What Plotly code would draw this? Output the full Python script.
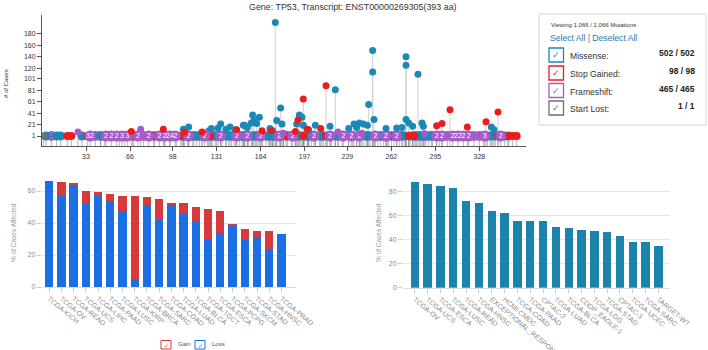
import plotly.graph_objects as go

# ---------------- DATA ----------------
title_text = "Gene: TP53, Transcript: ENST00000269305(393 aa)"

# Lollipop: raised points (position, # cases)
missense_pos = [175, 179, 176, 180, 163, 158, 159, 157, 152, 110, 106, 127, 134, 141, 145, 151, 173, 193, 195, 191, 196, 205, 216, 220, 234, 236, 238, 241, 245, 248, 248, 249, 244, 266, 273, 273, 273, 275, 278, 282, 285, 286, 339, 337, 171, 200, 230, 258, 270, 161, 154, 132, 138]
missense_val = [200, 50, 28, 22, 34, 38, 28, 24, 20, 17, 13, 14, 22, 17, 12, 20, 10, 38, 34, 22, 20, 20, 18, 82, 22, 16, 24, 22, 56, 151, 113, 30, 20, 15, 140, 125, 30, 24, 18, 109, 24, 18, 12, 17, 14, 12, 14, 14, 16, 23, 16, 15, 13]
stop_pos = [196, 213, 192, 172, 199, 91, 67, 306, 342, 296, 300, 319, 333, 190, 209, 165, 146, 107, 120]
stop_val = [66, 89, 29, 10, 13, 13, 9, 47, 43, 19, 23, 17, 26, 9, 14, 10, 12, 8, 8]
frameshift_pos = [27, 74, 125, 181, 222, 240, 287]
frameshift_val = [8, 13, 10, 6, 8, 6, 5]
startlost_pos = [1]
startlost_val = [1]

# Lollipop: single-case points along the baseline
baseline_missense = [3, 11, 14, 30, 44, 62, 101, 105, 109, 113, 116, 120, 124, 128, 131, 135, 138, 140, 144, 148, 151, 152, 155, 158, 162, 168, 171, 173, 176, 179, 181, 187, 190, 194, 197, 199, 202, 205, 208, 211, 214, 217, 220, 225, 230, 233, 236, 239, 243, 246, 249, 252, 256, 259, 264, 268, 272, 276, 278, 281, 283, 286, 290, 293, 331, 334, 336, 338, 340, 347, 350]
baseline_stop = [19, 22, 34, 47, 58, 69, 84, 92, 96, 104, 126, 165, 183, 196, 213, 260, 275, 279, 298, 342, 349, 353, 356]
baseline_frameshift = [7, 36, 40, 44, 48, 52, 56, 60, 64, 68, 72, 76, 80, 84, 88, 92, 96, 100, 106, 110, 114, 118, 122, 126, 130, 134, 142, 146, 150, 154, 160, 164, 170, 174, 178, 184, 188, 192, 200, 204, 210, 216, 222, 226, 232, 238, 244, 250, 254, 258, 262, 266, 270, 280, 284, 288, 292, 296, 300, 304, 308, 312, 316, 320, 324, 328, 332, 344]
# labelled baseline frameshift bubbles
bubble_pos = [36, 48, 52, 56, 60, 64, 72, 80, 88, 92, 96, 100, 110, 122, 134, 146, 154, 164, 178, 188, 204, 216, 226, 232, 238, 250, 258, 266, 296, 300, 308, 312, 316, 320, 332, 344]
bubble_txt = ["32", "2", "2", "2", "3", "3", "2", "2", "2", "2", "24", "2", "2", "2", "2", "2", "2", "2", "2", "2", "2", "2", "2", "2", "2", "2", "2", "2", "2", "2", "2", "22", "2", "2", "3", "2"]

lolli_xticks = [33, 66, 98, 131, 164, 197, 229, 262, 295, 328]
lolli_yticks = [1, 21, 41, 61, 81, 101, 120, 140, 160, 180]

# Legend panel
mut_types = ["Missense:", "Stop Gained:", "Frameshift:", "Start Lost:"]
mut_counts = ["502 / 502", "98 / 98", "465 / 465", "1 / 1"]

# CNV bar chart (left)
cnv_projects = ["TCGA-KICH", "TCGA-OV", "TCGA-READ", "TCGA-UCS", "TCGA-LIHC", "TCGA-PAAD", "TCGA-LUSC", "TCGA-KIRP", "TCGA-BRCA", "TCGA-SARC", "TCGA-COAD", "TCGA-LUAD", "TCGA-BLCA", "TCGA-TGCT", "TCGA-ESCA", "TCGA-PCPG", "TCGA-SKCM", "TCGA-STAD", "TCGA-HNSC", "TCGA-PRAD"]
cnv_loss = [66.4, 57.1, 63.1, 52.3, 57.1, 53.1, 47.3, 4.8, 51.0, 41.9, 51.2, 46.2, 41.3, 29.8, 34.0, 38.1, 30.0, 30.8, 24.0, 33.3]
cnv_gain = [0.0, 8.3, 1.9, 7.7, 2.5, 5.0, 9.8, 51.9, 5.0, 13.1, 1.5, 6.1, 8.9, 19.2, 13.7, 1.3, 6.0, 4.2, 10.8, 0.0]

# Mutation frequency bar chart (right)
mut_projects = ["TCGA-OV", "TCGA-UCS", "TCGA-ESCA", "TCGA-LUSC", "TCGA-READ", "TCGA-HNSC", "EXCEPTIONAL_RESPONDERS-ER", "HCMI-CMDC", "TCGA-COAD", "TCGA-PAAD", "CPTAC-2", "TCGA-LUAD", "TCGA-BLCA", "CDDP_EAGLE-1", "TCGA-LGG", "TCGA-STAD", "CPTAC-3", "TCGA-UCEC", "TCGA-SARC", "TARGET-WT"]
mut_pct = [88.1, 86.7, 84.7, 83.3, 72.0, 70.6, 63.6, 62.5, 55.6, 55.6, 55.6, 50.6, 49.5, 48.4, 47.2, 46.1, 43.4, 38.1, 37.8, 34.5]

# ---------------- STYLE ----------------
W, H = 708, 350
FONT = "Liberation Sans, Arial, sans-serif"
C_MS, C_SG, C_FS, C_SL = "#1a89b6", "#ee1b1b", "#a45cc6", "#707070"
C_LOSS, C_GAIN, C_TEAL = "#1c6fe3", "#d63a3a", "#1c84ac"
Y_BOTTOM = -16.5


def PX(x):
    return x / W


def PY(y):
    return 1 - y / H


fig = go.Figure()

# sticks: upper part (light) and lower rug part (darker)
ux, uy, lx, ly = [], [], [], []
for plist, vlist in [(missense_pos, missense_val), (stop_pos, stop_val), (frameshift_pos, frameshift_val),
                     (startlost_pos, startlost_val)]:
    for p, v in zip(plist, vlist):
        ux += [p, p, None]
        uy += [1, v, None]
        lx += [p, p, None]
        ly += [Y_BOTTOM, 1, None]
for plist in [baseline_missense, baseline_stop, baseline_frameshift]:
    for p in plist:
        lx += [p, p, None]
        ly += [Y_BOTTOM, 1, None]
fig.add_trace(go.Scatter(x=ux, y=uy, mode="lines", line=dict(color="#cfcfcf", width=1),
                         hoverinfo="skip", showlegend=False, xaxis="x", yaxis="y"))
fig.add_trace(go.Scatter(x=lx, y=ly, mode="lines", line=dict(color="rgba(110,110,110,0.5)", width=1),
                         hoverinfo="skip", showlegend=False, xaxis="x", yaxis="y"))

# baseline markers
fig.add_trace(go.Scatter(x=baseline_frameshift, y=[1] * len(baseline_frameshift), mode="markers",
                         marker=dict(color=C_FS, size=10), showlegend=False, xaxis="x", yaxis="y"))
fig.add_trace(go.Scatter(x=baseline_missense, y=[1] * len(baseline_missense), mode="markers",
                         marker=dict(color=C_MS, size=9), showlegend=False, xaxis="x", yaxis="y"))
fig.add_trace(go.Scatter(x=baseline_stop, y=[1] * len(baseline_stop), mode="markers",
                         marker=dict(color=C_SG, size=8), showlegend=False, xaxis="x", yaxis="y"))
fig.add_trace(go.Scatter(x=bubble_pos, y=[1] * len(bubble_pos), mode="markers+text", text=bubble_txt,
                         textposition="middle center", textfont=dict(color="white", size=7, family=FONT),
                         marker=dict(color=C_FS, size=11), showlegend=False, xaxis="x", yaxis="y"))
# raised markers
fig.add_trace(go.Scatter(x=frameshift_pos, y=frameshift_val, mode="markers", marker=dict(color=C_FS, size=7),
                         showlegend=False, xaxis="x", yaxis="y"))
fig.add_trace(go.Scatter(x=missense_pos, y=missense_val, mode="markers", marker=dict(color=C_MS, size=7),
                         showlegend=False, xaxis="x", yaxis="y"))
fig.add_trace(go.Scatter(x=stop_pos, y=stop_val, mode="markers", marker=dict(color=C_SG, size=7),
                         showlegend=False, xaxis="x", yaxis="y"))
fig.add_trace(go.Scatter(x=startlost_pos, y=startlost_val, mode="markers", marker=dict(color=C_SL, size=7),
                         showlegend=False, xaxis="x", yaxis="y"))

# left stacked bars
fig.add_trace(go.Bar(x=cnv_projects, y=cnv_loss, name="Loss", marker=dict(color=C_LOSS),
                     showlegend=False, xaxis="x2", yaxis="y2"))
fig.add_trace(go.Bar(x=cnv_projects, y=cnv_gain, name="Gain", marker=dict(color=C_GAIN),
                     showlegend=False, xaxis="x2", yaxis="y2"))
# right bars
fig.add_trace(go.Bar(x=mut_projects, y=mut_pct, marker=dict(color=C_TEAL), showlegend=False,
                     xaxis="x3", yaxis="y3"))

tick_font = dict(family=FONT, size=7, color="#333")
grey_font = dict(family=FONT, size=7, color="#8a8a8a")

fig.update_layout(
    width=W, height=H, margin=dict(l=0, r=0, t=0, b=0, autoexpand=False),
    paper_bgcolor="white", plot_bgcolor="white",
    barmode="stack", bargap=0.32,
    font=dict(family=FONT),
    xaxis=dict(domain=[PX(42), PX(526)], range=[0, 363], tickvals=lolli_xticks, showgrid=False,
               zeroline=False, showline=True, linecolor="#555", linewidth=1, ticks="outside",
               ticklen=4, tickcolor="#555", tickfont=tick_font, anchor="y", automargin=False),
    yaxis=dict(domain=[PY(146), PY(15)], range=[Y_BOTTOM, 213], tickvals=lolli_yticks, showgrid=False,
               zeroline=False, showline=True, linecolor="#555", linewidth=1, ticks="outside",
               ticklen=4, tickcolor="#555", tickfont=tick_font, anchor="x", automargin=False),
    xaxis2=dict(domain=[PX(41.7), PX(296)], range=[-0.61, 20.19], type="category", tickangle=40,
                showgrid=False, zeroline=False, showline=True, linecolor="#ddd", ticks="outside",
                ticklen=4, tickcolor="#ccc", tickfont=grey_font, anchor="y2", automargin=False),
    yaxis2=dict(domain=[PY(287), PY(175)], range=[0, 70], tickvals=[0, 20, 40, 60], showgrid=True,
                gridcolor="#e6e6e6", zeroline=False, showline=False, ticks="outside", ticklen=4,
                tickcolor="#ccc", tickfont=grey_font, anchor="x2", automargin=False),
    xaxis3=dict(domain=[PX(403), PX(670)], range=[-0.92, 19.9], type="category", tickangle=40,
                showgrid=False, zeroline=False, showline=True, linecolor="#ddd", ticks="outside",
                ticklen=4, tickcolor="#ccc", tickfont=grey_font, anchor="y3", automargin=False),
    yaxis3=dict(domain=[PY(287.7), PY(179.7)], range=[0, 90], tickvals=[0, 20, 40, 60, 80], showgrid=True,
                gridcolor="#e6e6e6", zeroline=False, showline=False, ticks="outside", ticklen=4,
                tickcolor="#ccc", tickfont=grey_font, anchor="x3", automargin=False),
)
fig.update_traces(selector=dict(type="bar"), marker_line_width=0)
fig.data[-1].update(width=0.65)

ann = []
shapes = []
ann.append(dict(text=title_text, x=PX(353), y=PY(7), xref="paper", yref="paper", showarrow=False,
                font=dict(family=FONT, size=8.9, color="#333"), xanchor="center", yanchor="middle"))
ann.append(dict(text="# of Cases", x=PX(6), y=PY(84), xref="paper", yref="paper", showarrow=False,
                textangle=-90, font=dict(family=FONT, size=6, color="#333"), xanchor="center", yanchor="middle"))
for xx in [13, 378]:
    ann.append(dict(text="% of Cases Affected", x=PX(xx), y=PY(233), xref="paper", yref="paper",
                    showarrow=False, textangle=-90, font=dict(family=FONT, size=6.5, color="#9a9a9a"),
                    xanchor="center", yanchor="middle"))

# legend panel
shapes.append(dict(type="rect", xref="paper", yref="paper", x0=PX(539), x1=PX(706), y0=PY(125), y1=PY(14),
                   line=dict(color="#d6d6d6", width=1), fillcolor="white"))
ann.append(dict(text="Viewing 1,066 / 1,066 Mutations", x=PX(549), y=PY(25.5), xref="paper", yref="paper",
                showarrow=False, xanchor="left", yanchor="middle", font=dict(family=FONT, size=6, color="#333")))
ann.append(dict(text="Select All | Deselect All", x=PX(548), y=PY(38.5), xref="paper", yref="paper",
                showarrow=False, xanchor="left", yanchor="middle", font=dict(family=FONT, size=8.6, color="#2c79a8")))
box_cols = [C_MS, C_SG, C_FS, C_SL]
box_y = [55, 73, 90.5, 108]
for lab, cnt, col, yy in zip(mut_types, mut_counts, box_cols, box_y):
    shapes.append(dict(type="rect", xref="paper", yref="paper", x0=PX(549), x1=PX(563.5), y0=PY(yy + 7),
                       y1=PY(yy - 7), line=dict(color=col, width=1.3), fillcolor="white"))
    ann.append(dict(text="✓", x=PX(556.3), y=PY(yy), xref="paper", yref="paper", showarrow=False,
                    xanchor="center", yanchor="middle", font=dict(family="DejaVu Sans", size=9, color=col)))
    ann.append(dict(text=lab, x=PX(568), y=PY(yy + 1), xref="paper", yref="paper", showarrow=False,
                    xanchor="left", yanchor="middle", font=dict(family=FONT, size=8.6, color="#333")))
    ann.append(dict(text="<b>" + cnt + "</b>", x=PX(697), y=PY(yy - 2), xref="paper", yref="paper",
                    showarrow=False, xanchor="right", yanchor="middle", font=dict(family=FONT, size=8.5, color="#222")))

# bottom legend (Gain / Loss)
for x0, col, lab in [(161, C_GAIN, "Gain"), (195, C_LOSS, "Loss")]:
    shapes.append(dict(type="rect", xref="paper", yref="paper", x0=PX(x0), x1=PX(x0 + 10), y0=PY(349),
                       y1=PY(340.5), line=dict(color=col, width=1), fillcolor="white"))
    ann.append(dict(text="✓", x=PX(x0 + 5), y=PY(345), xref="paper", yref="paper", showarrow=False,
                    xanchor="center", yanchor="middle", font=dict(family="DejaVu Sans", size=6, color=col)))
    ann.append(dict(text=lab, x=PX(x0 + 14.5), y=PY(343.5), xref="paper", yref="paper", showarrow=False,
                    xanchor="left", yanchor="middle", font=dict(family=FONT, size=6, color="#555")))

fig.update_layout(annotations=ann, shapes=shapes)
fig.write_html("out.html")
